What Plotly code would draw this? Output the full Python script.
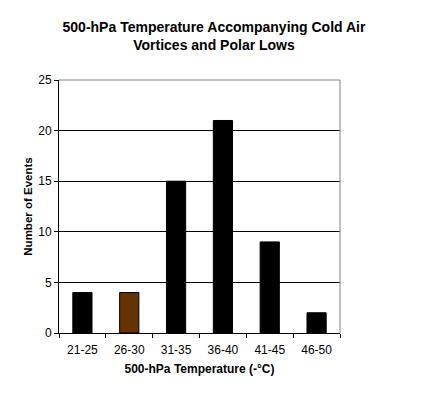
import plotly.graph_objects as go

categories = ["21-25", "26-30", "31-35", "36-40", "41-45", "46-50"]
events = [4, 4, 15, 21, 9, 2]
bar_colors = ["#000000", "#663300", "#000000", "#000000", "#000000", "#000000"]
y_ticks = [0, 5, 10, 15, 20, 25]

fig = go.Figure(go.Bar(x=categories, y=events, marker=dict(color=bar_colors, line=dict(color="#000000", width=1)), width=0.41))

font = "Liberation Sans, Arial, sans-serif"
W, H = 425, 397
fig.update_layout(
    width=W, height=H,
    margin=dict(l=51, r=93, t=72, b=72, autoexpand=False),
    paper_bgcolor="white", plot_bgcolor="white",
    font=dict(family=font, size=12, color="black"),
    showlegend=False,
    title=dict(text="<b>500-hPa Temperature Accompanying Cold Air<br>Vortices and Polar Lows</b>",
               x=206 / W, xanchor="center", y=1 - 24 / H, yanchor="top",
               font=dict(family=font, size=14, color="black")),
    xaxis=dict(type="category", tickson="boundaries", ticks="outside", ticklen=4, tickcolor="black",
               showline=True, linecolor="black", linewidth=1, showgrid=False,
               ticklabelstandoff=6,
               title=dict(text="<b>500-hPa Temperature (-°C)</b>", font=dict(size=12), standoff=8),
               tickfont=dict(size=12)),
    yaxis=dict(range=[0, 25], tickvals=y_ticks, ticks="outside", ticklen=4, tickcolor="black",
               showline=True, linecolor="black", linewidth=1, showgrid=True, gridcolor="black", gridwidth=1,
               zeroline=False,
               title=dict(text="<b>Number of Events</b>", font=dict(size=11.5), standoff=3),
               tickfont=dict(size=12)),
    shapes=[
        dict(type="line", xref="paper", yref="paper", x0=0, x1=1, y0=1, y1=1, line=dict(color="#808080", width=1), layer="above"),
        dict(type="line", xref="paper", yref="paper", x0=1, x1=1, y0=0, y1=1, line=dict(color="#808080", width=1), layer="above"),
    ],
)

fig.write_html("out.html")
